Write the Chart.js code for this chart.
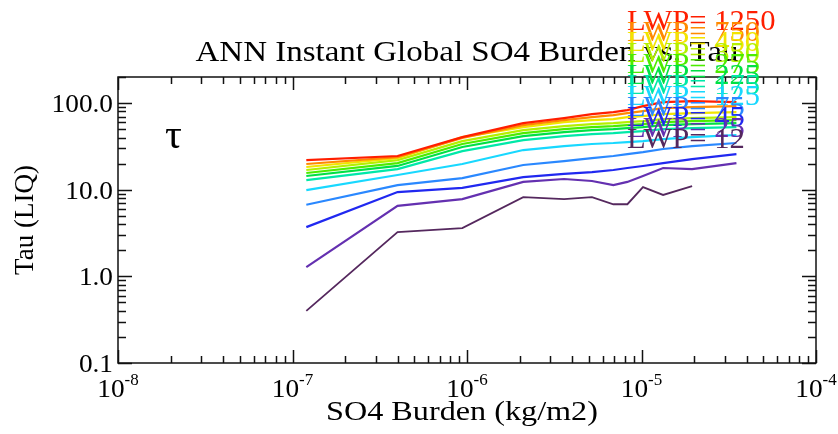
<!DOCTYPE html>
<html>
<head>
<meta charset="utf-8">
<script src="https://cdn.jsdelivr.net/npm/chart.js@4.4.0/dist/chart.umd.min.js"></script>
<style>
  body { margin: 0; background: #fff; }
  #wrap { width: 838px; height: 434px; position: relative; }
</style>
</head>
<body>
<div id="wrap"><canvas id="tau-chart"></canvas></div>
<script>
// SO4 burden bin centres (kg/m2)
var burden = [1.2e-7, 4.0e-7, 9.4e-7, 2.1e-6, 3.6e-6, 5.2e-6, 6.9e-6, 8.3e-6, 1.02e-5, 1.33e-5, 1.95e-5, 3.5e-5];

// liquid cloud optical depth, one array per LWP bin
var tau1250 = [22.0, 24.5, 40.5, 58.8, 67.1, 74.6, 78.7, 83.0, 92.3, 102.7, 105.4, 102.7];
var tau750  = [19.8, 23.8, 39.5, 55.7, 63.7, 69.0, 72.7, 76.7, 80.9, 87.6, 89.9, 92.3];
var tau450  = [18.3, 23.2, 40.5, 52.9, 60.4, 63.7, 65.4, 69.0, 70.8, 74.6, 76.7, 78.7];
var tau350  = [16.9, 22.0, 36.4, 48.8, 54.3, 57.3, 58.8, 60.4, 62.0, 65.4, 67.1, 69.0];
var tau275  = [15.6, 20.3, 33.7, 45.1, 50.1, 52.9, 54.3, 55.7, 57.3, 60.4, 62.0, 63.7];
var tau225  = [14.4, 18.8, 31.1, 41.6, 46.3, 48.8, 50.1, 51.5, 52.9, 55.7, 57.3, 58.8];
var tau175  = [12.9, 17.3, 27.9, 37.4, 41.6, 43.9, 45.1, 46.3, 47.5, 50.1, 51.5, 52.9];
var tau125  = [9.9, 14.8, 19.8, 28.7, 31.9, 33.7, 34.6, 35.5, 36.4, 38.4, 40.5, 42.8];
var tau75   = [6.7, 11.3, 13.6, 19.3, 21.4, 23.2, 24.5, 25.8, 27.2, 29.5, 31.9, 34.6];
var tau45   = [3.7, 9.4, 10.5, 14.0, 15.2, 16.0, 16.9, 17.8, 18.8, 20.3, 22.6, 25.8];
var tau25   = [1.28, 6.5, 7.8, 12.3, 13.3, 12.6, 11.3, 12.3, 14.4, 17.8, 17.3, 20.3];
var tau12   = [0.40, 3.25, 3.6, 8.2, 7.8, 8.2, 6.8, 6.8, 10.7, 8.7, 11.0, null];

var lwpBins = [1250, 750, 450, 350, 275, 225, 175, 125, 75, 45, 25, 12];
var lwpColors = ["#ff1e00", "#ff8a00", "#f2e400", "#b4f000", "#4cec00", "#00e044",
                 "#00e8a8", "#18d8ff", "#2a88ff", "#2028f0", "#6430b0", "#55285e"];
var tauSeries = [tau1250, tau750, tau450, tau350, tau275, tau225, tau175, tau125, tau75, tau45, tau25, tau12];

var xTicks = [1e-8, 1e-7, 1e-6, 1e-5, 1e-4];
var xTickExps = ["-8", "-7", "-6", "-5", "-4"];
var yTicks = [0.1, 1, 10, 100];
var yTickLabels = ["0.1", "1.0", "10.0", "100.0"];

var serif = '"Liberation Serif", "Times New Roman", serif';

var datasets = tauSeries.map(function (vals, i) {
  return {
    label: "LWP= " + lwpBins[i],
    data: vals.map(function (v, j) { return { x: burden[j], y: v }; }),
    borderColor: lwpColors[i],
    backgroundColor: lwpColors[i],
    borderWidth: i == 11 ? 1.8 : 2.2,
    pointRadius: 0,
    tension: 0,
    fill: false,
    spanGaps: false
  };
});

// text helper; sx widens the glyphs a little like the PostScript fonts
function drawText(ctx, s, x, y, size, align, color, sx) {
  sx = sx || 1;
  ctx.save();
  ctx.font = size + "px " + serif;
  ctx.fillStyle = color || "#000";
  ctx.textAlign = align || "left";
  ctx.textBaseline = "alphabetic";
  ctx.translate(x, y);
  ctx.scale(sx, 1);
  ctx.fillText(s, 0, 0);
  ctx.restore();
}

// IDL-style frame: box, inward ticks on all four sides, labels
var idlFrame = {
  id: "idlFrame",
  afterDraw: function (chart) {
    var ctx = chart.ctx, a = chart.chartArea;
    var xs = chart.scales.x, ys = chart.scales.y;
    ctx.save();
    ctx.strokeStyle = "#111";
    ctx.lineWidth = 1.5;
    ctx.strokeRect(a.left, a.top, a.right - a.left, a.bottom - a.top);
    ctx.beginPath();
    var d, m, p, len;
    for (d = -8; d <= -4; d++) {
      for (m = 1; m <= 9; m++) {
        var v = m * Math.pow(10, d);
        if (v > 1.0001e-4) break;
        p = Math.round(xs.getPixelForValue(v)) + 0.5;
        len = m == 1 ? 13 : 7;
        ctx.moveTo(p, a.bottom); ctx.lineTo(p, a.bottom - len);
        ctx.moveTo(p, a.top); ctx.lineTo(p, a.top + len);
      }
    }
    for (d = -1; d <= 2; d++) {
      for (m = 1; m <= 9; m++) {
        var w = m * Math.pow(10, d);
        if (w > 200.01) break;
        p = Math.round(ys.getPixelForValue(w)) + 0.5;
        len = m == 1 ? 14 : 8;
        ctx.moveTo(a.left, p); ctx.lineTo(a.left + len, p);
        ctx.moveTo(a.right, p); ctx.lineTo(a.right - len, p);
      }
    }
    ctx.stroke();
    ctx.restore();

    // y tick labels
    yTicks.forEach(function (t, i) {
      drawText(ctx, yTickLabels[i], a.left - 5, ys.getPixelForValue(t) + 9, 26, "right", "#000", 1.05);
    });
    // x tick labels: 10 with superscript exponent
    xTicks.forEach(function (t, i) {
      ctx.save();
      ctx.font = "26px " + serif;
      var wb = ctx.measureText("10").width * 1.05;
      ctx.font = "17px " + serif;
      var we = ctx.measureText(xTickExps[i]).width;
      ctx.restore();
      var x0 = xs.getPixelForValue(t) - (wb + we) / 2;
      drawText(ctx, "10", x0, 397, 26, "left", "#000", 1.05);
      drawText(ctx, xTickExps[i], x0 + wb, 385, 17, "left");
    });

    // axis titles and title
    drawText(ctx, "SO4 Burden (kg/m2)", (a.left + a.right) / 2 - 5, 420, 28, "center", "#000", 1.15);
    ctx.save();
    ctx.translate(33, (a.top + a.bottom) / 2);
    ctx.rotate(-Math.PI / 2);
    drawText(ctx, "Tau (LIQ)", 0, 0, 27, "center");
    ctx.restore();
    drawText(ctx, "ANN Instant Global SO4 Burden vs. Tau", (a.left + a.right) / 2, 61, 30, "center", "#000", 1.1);
    drawText(ctx, "\u03c4", 165, 148, 42, "left");

    // stacked LWP labels in line colours
    chart.data.datasets.forEach(function (ds, i) {
      drawText(ctx, ds.label, 627, 30 + i * 10.7, 30, "left", ds.borderColor, 1.02);
    });
  }
};

new Chart("tau-chart", {
  type: "line",
  data: { datasets: datasets },
  options: {
    responsive: true,
    maintainAspectRatio: false,
    animation: false,
    layout: { padding: { left: 118, top: 77, right: 22, bottom: 71 } },
    plugins: {
      legend: { display: false },
      title: { display: false },
      tooltip: { enabled: false }
    },
    scales: {
      x: { type: "logarithmic", min: 1e-8, max: 1e-4, display: false },
      y: { type: "logarithmic", min: 0.1, max: 200, display: false }
    }
  },
  plugins: [idlFrame]
});
</script>
</body>
</html>
